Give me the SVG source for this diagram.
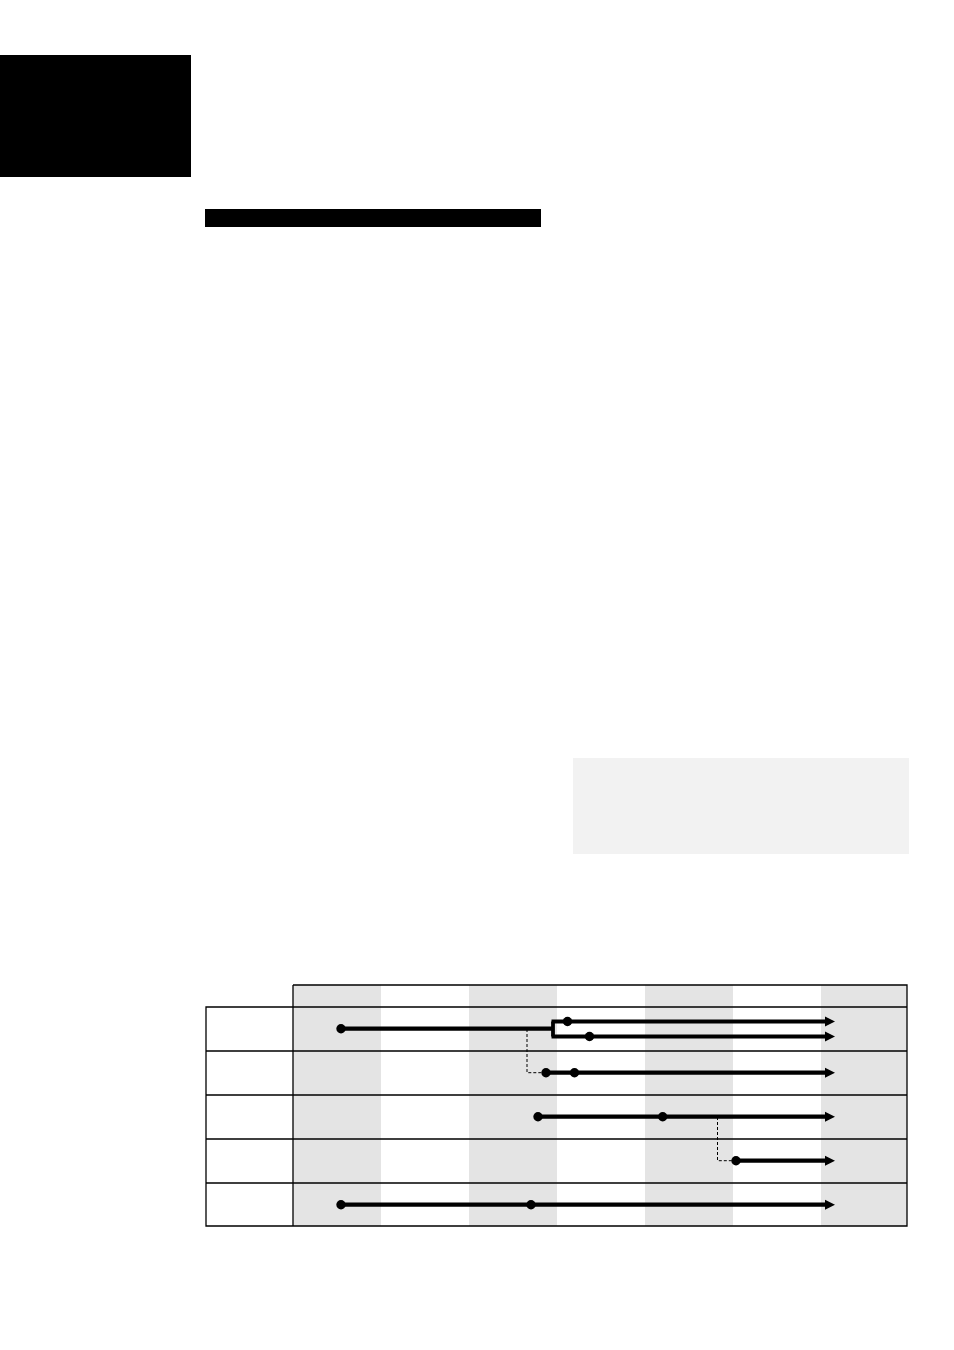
<svg xmlns="http://www.w3.org/2000/svg" width="954" height="1350" viewBox="0 0 954 1350">
<style>
.band{fill:#e4e4e4}
.grid{stroke:#000;stroke-width:1.3;fill:none}
.tl{stroke:#000;stroke-width:4.2;fill:none}
.br{stroke:#000;stroke-width:3.8;fill:none}
.dash{stroke:#000;stroke-width:1;stroke-dasharray:3,2;fill:none}
.dot{fill:#000}
</style>
<defs>
<marker id="ah" markerUnits="userSpaceOnUse" markerWidth="11" markerHeight="11" refX="0" refY="5.5" orient="auto" viewBox="0 0 11 11">
<path d="M0,0.5 L10,5.5 L0,10.5 Z" fill="#000"/>
</marker>
</defs>
<rect width="954" height="1350" fill="#fff"/>
<g id="corner-block"><rect x="0" y="55" width="191" height="122" fill="#000"/></g>
<g id="title-bar"><rect x="205" y="209" width="336" height="18" fill="#000"/></g>
<g id="note-box"><rect x="573" y="758" width="336" height="96" fill="#f2f2f2"/></g>
<g id="table">
<rect class="band" x="293" y="985" width="88" height="241"/>
<rect class="band" x="469" y="985" width="88" height="241"/>
<rect class="band" x="645" y="985" width="88" height="241"/>
<rect class="band" x="821" y="985" width="86" height="241"/>
<path class="grid" d="M293,985 H907 V1226 H206 V1007 H907 M293,985 V1226 M206,1051 H907 M206,1095 H907 M206,1139 H907 M206,1183 H907"/>
</g>
<g id="connectors">
<path class="tl" d="M341,1028.7 H553"/>
<path class="br" d="M553,1021.5 V1036.5"/>
<path class="br" d="M551.5,1021.5 H825" marker-end="url(#ah)"/>
<path class="br" d="M551.5,1036.5 H825" marker-end="url(#ah)"/>
<path class="dash" d="M527,1029 V1072.7 H546"/>
<path class="tl" d="M546,1072.7 H825" marker-end="url(#ah)"/>
<path class="tl" d="M538,1116.7 H825" marker-end="url(#ah)"/>
<path class="dash" d="M717.5,1117 V1160.7 H736"/>
<path class="tl" d="M736,1160.7 H825" marker-end="url(#ah)"/>
<path class="tl" d="M341,1204.7 H825" marker-end="url(#ah)"/>
<circle class="dot" cx="341" cy="1028.7" r="4.7"/>
<circle class="dot" cx="567.5" cy="1021.5" r="4.7"/>
<circle class="dot" cx="589.5" cy="1036.5" r="4.7"/>
<circle class="dot" cx="546" cy="1072.7" r="4.7"/>
<circle class="dot" cx="574.5" cy="1072.7" r="4.7"/>
<circle class="dot" cx="538" cy="1116.7" r="4.7"/>
<circle class="dot" cx="662.7" cy="1116.7" r="4.7"/>
<circle class="dot" cx="736" cy="1160.7" r="4.7"/>
<circle class="dot" cx="341" cy="1204.7" r="4.7"/>
<circle class="dot" cx="531" cy="1204.7" r="4.7"/>
</g>
</svg>
